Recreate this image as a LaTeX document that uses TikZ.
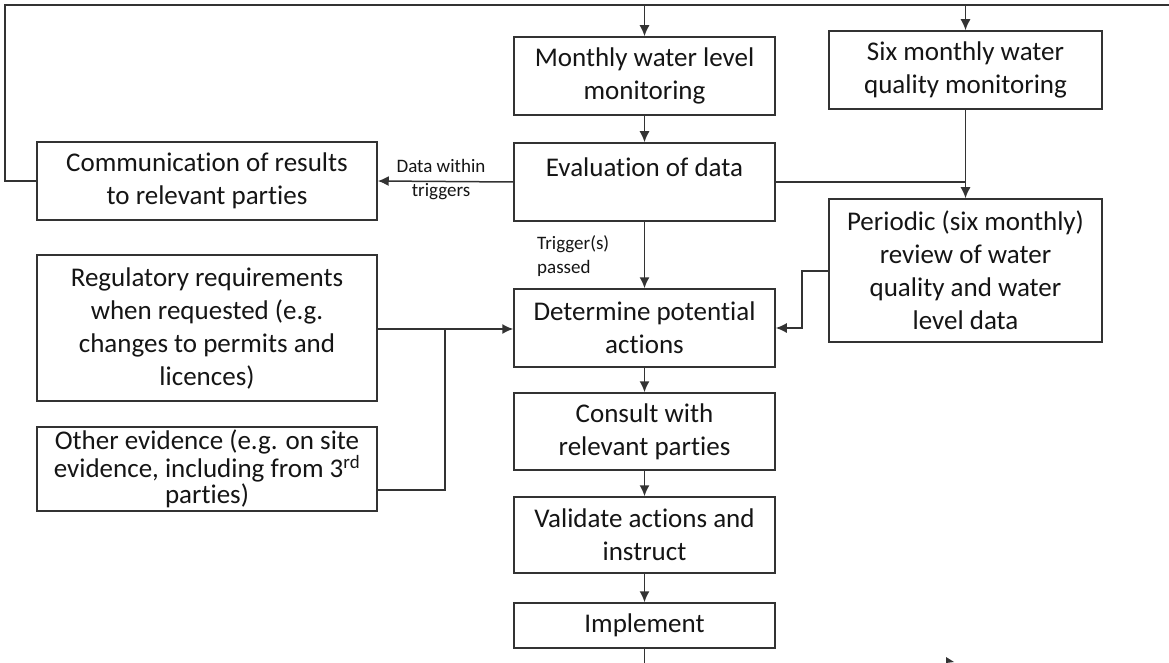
\documentclass[tikz,border=0pt]{standalone}
\usepackage{fontspec}
\setmainfont[Ligatures=NoCommon]{Carlito}
\usetikzlibrary{arrows.meta}
\definecolor{linec}{HTML}{333333}
\definecolor{textc}{HTML}{151515}
\tikzset{
  box/.style={draw=linec, line width=1.5pt, rectangle, inner sep=0pt, align=center,
    text=textc, font=\fontsize{27pt}{33pt}\selectfont},
  small/.style={inner sep=0pt, text=textc, font=\fontsize{19pt}{24pt}\selectfont},
  conn/.style={draw=linec, line width=1.5pt},
  arr/.style={conn, -{Latex[length=11pt,width=10pt]}}
}
\begin{document}
\begin{tikzpicture}[x=1pt,y=-1pt]
\useasboundingbox (0,0) rectangle (1169,663);
\fill[white] (0,0) rectangle (1169,663);

\coordinate (tl) at (5,5);
\coordinate (tr) at (1169,5);

\node[box, minimum width=261pt, minimum height=78pt] (mon) at (644.5,76) {Monthly water level\\monitoring};
\node[box, minimum width=273pt, minimum height=78pt] (six) at (965.5,70) {Six monthly water\\quality monitoring};
\node[box, minimum width=340pt, minimum height=78pt] (comm) at (207,181) {Communication of results\\to relevant parties};
\node[box, minimum width=261pt, minimum height=78pt] (eval) at (644.5,182) {};
\node[box, draw=none, anchor=center] (evaltxt) at (644.5,167) {Evaluation of data};
\node[box, minimum width=273pt, minimum height=143pt] (peri) at (965.5,270.5) {Periodic (six monthly)\\review of water\\quality and water\\level data};
\node[box, minimum width=340pt, minimum height=146pt] (reg) at (207,328) {Regulatory requirements\\when requested (e.g.\\changes to permits and\\licences)};
\node[box, minimum width=261pt, minimum height=78pt] (det) at (644.5,328) {Determine potential\\actions};
\node[box, minimum width=340pt, minimum height=84pt, font=\fontsize{27pt}{26.5pt}\selectfont] (oth) at (207,469) {Other evidence (e.g. on site\\evidence, including from 3\textsuperscript{rd}\\parties)};
\node[box, minimum width=261pt, minimum height=77pt] (cons) at (644.5,431.5) {Consult with\\relevant parties};
\node[box, minimum width=261pt, minimum height=76pt] (val) at (644.5,535) {Validate actions and\\instruct};
\node[box, minimum width=261pt, minimum height=45pt] (imp) at (644.5,625.5) {Implement};

\node[small, align=center] (lbl1) at (441,180) {Data within\\triggers};
\node[small, align=left, anchor=west] (lbl2) at (537,256) {Trigger(s)\\passed};

% feedback loop along the top
\draw[conn] (comm.west) -- (comm.west -| tl) -- (tl) -- (tr);
\draw[arr] (mon.north |- tl) -- (mon.north);
\draw[arr] (six.north |- tl) -- (six.north);

% central chain
\draw[arr] (mon.south) -- (eval.north);
\draw[arr] (eval.west) -- (comm.east);
\draw[arr] (eval.south) -- (det.north);
\draw[arr] (det.south) -- (cons.north);
\draw[arr] (cons.south) -- (val.north);
\draw[arr] (val.south) -- (imp.north);
\coordinate (impend) at (644.5,663);
\draw[conn] (imp.south) -- (impend);

% right side
\draw[arr] (six.south) -- (peri.north);
\draw[conn] (eval.east) -- (eval.east -| six.south);
\coordinate (pk1) at (802,271);
\coordinate (pk2) at (802,328);
\draw[arr] (peri.west |- pk1) -- (pk1) -- (pk2) -- (det.east |- pk2);

% left side inputs
\coordinate (jn) at (445,329);
\coordinate (jb) at (445,490);
\draw[arr] (reg.east |- jn) -- (det.west |- jn);
\draw[conn] (jn) -- (jb) -- (oth.east |- jb);

% stray arrowhead at bottom edge
\fill[linec] (946,657) -- (954,662) -- (946,663) -- cycle;
\end{tikzpicture}
\end{document}
